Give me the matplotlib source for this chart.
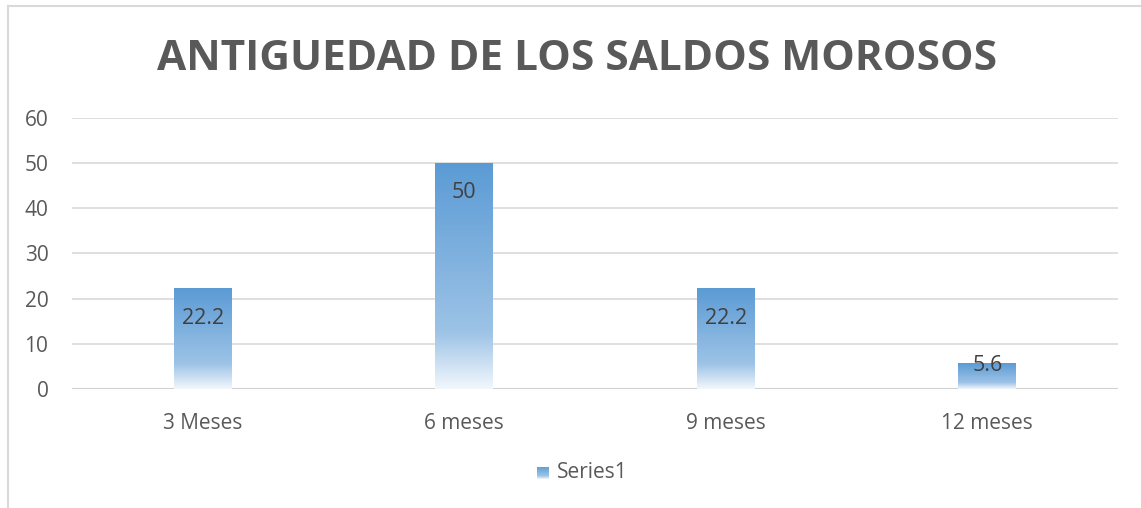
import numpy as np
import matplotlib.pyplot as plt
from matplotlib.colors import LinearSegmentedColormap

categories = ["3 Meses", "6 meses", "9 meses", "12 meses"]
values = [22.2, 50, 22.2, 5.6]
labels = ["22.2", "50", "22.2", "5.6"]
series_name = "Series1"
title = "ANTIGUEDAD DE LOS SALDOS MOROSOS"

plt.rcParams['font.family'] = ['Open Sans', 'DejaVu Sans']

grad = LinearSegmentedColormap.from_list(
    "bar", [(0.0, (242/255, 247/255, 252/255)),
            (0.25, (157/255, 195/255, 230/255)),
            (1.0, (91/255, 155/255, 213/255))])

fig = plt.figure(figsize=(11.41, 5.08), dpi=100)
W, H = 1141, 508
ax = fig.add_axes([72 / W, 1 - 389 / H, (1118 - 72) / W, (389 - 118) / H])

# outer chart border (left and top only visible)
fig.add_artist(plt.Line2D([7.5 / W, 7.5 / W], [0, 1 - 6 / H], color="#D9D9D9", lw=1.5))
fig.add_artist(plt.Line2D([7.5 / W, 1], [1 - 6 / H, 1 - 6 / H], color="#D9D9D9", lw=1.5))

x = np.arange(len(categories))
bw = 0.22
ax.set_xlim(-0.5, len(categories) - 0.5)
ax.set_ylim(0, 60)

gvals = np.linspace(0, 1, 256).reshape(-1, 1)
for xi, v, lab in zip(x, values, labels):
    ax.imshow(gvals, cmap=grad, origin="lower", aspect="auto",
              extent=[xi - bw / 2, xi + bw / 2, 0, v], zorder=3)
    ty = v - 6.5 if v > 12 else v - 0.3
    ax.text(xi, ty, lab, ha="center", va="center", fontsize=15.5,
            color="#404040", zorder=4)

ax.set_yticks(range(0, 61, 10))
ax.yaxis.grid(True, color="#D9D9D9", lw=1.2, zorder=0)
ax.set_axisbelow(True)
for s in ax.spines.values():
    s.set_visible(False)
ax.axhline(0, color="#D0D0D0", lw=1.5, zorder=2)
ax.tick_params(length=0, colors="#595959", labelsize=15)
ax.tick_params(axis="y", pad=17)
ax.tick_params(axis="x", pad=17)
ax.set_xticks(x)
ax.set_xticklabels(categories)

fig.text(577 / W, 1 - 59 / H, title, ha="center", va="center",
         fontsize=30.5, fontweight="bold", color="#595959")

# legend
lx, ly = 537, 473
sq = fig.add_axes([lx / W, 1 - (ly + 6) / H, 12 / W, 12 / H])
sq.imshow(gvals, cmap=grad, origin="lower", aspect="auto", extent=[0, 1, 0, 1])
sq.axis("off")
fig.text((lx + 20) / W, 1 - ly / H, series_name, ha="left", va="center",
         fontsize=15, color="#595959")

fig.savefig("out.png", dpi=100)
